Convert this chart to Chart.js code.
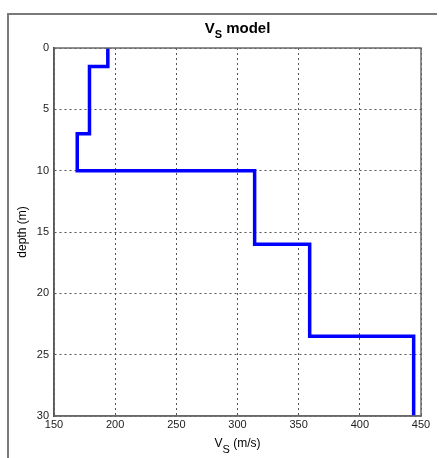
<!DOCTYPE html>
<html>
<head>
<meta charset="utf-8">
<script src="https://cdn.jsdelivr.net/npm/chart.js@4/dist/chart.umd.min.js"></script>
<style>
  html, body { margin: 0; padding: 0; background: #fff; }
  #wrap { position: relative; width: 439px; height: 458px; }
</style>
</head>
<body>
<div id="wrap"><canvas id="c" width="439" height="458"></canvas></div>
<script>
// Layer shear-wave velocities (m/s) and layer boundary depths (m)
const velocities = [194, 179, 169, 314, 359, 444];
const layerTops    = [0, 1.5, 7, 10, 16, 23.5];
const layerBottoms = [1.5, 7, 10, 16, 23.5, 30];
const xTicks = [150, 200, 250, 300, 350, 400, 450];
const yTicks = [0, 5, 10, 15, 20, 25, 30];

const points = [];
velocities.forEach((v, i) => {
  points.push({x: v, y: layerTops[i]});
  points.push({x: v, y: layerBottoms[i]});
});

const FONT = "'Liberation Sans', Arial, sans-serif";

const decor = {
  id: 'decor',
  beforeDraw(chart) {
    const ctx = chart.ctx;
    ctx.save();
    ctx.fillStyle = '#fff';
    ctx.fillRect(0, 0, chart.width, chart.height);
    ctx.strokeStyle = '#7a7a7a';
    ctx.lineWidth = 2;
    ctx.beginPath();
    ctx.moveTo(8, 458);
    ctx.lineTo(8, 14);
    ctx.lineTo(437, 14);
    ctx.stroke();
    ctx.restore();
  },
  afterDatasetsDraw(chart) {
    const {ctx, chartArea: a} = chart;
    ctx.save();
    ctx.strokeStyle = '#6a6a6a';
    ctx.lineWidth = 1.5;
    ctx.setLineDash([]);
    ctx.strokeRect(a.left, a.top, a.right - a.left, a.bottom - a.top);
    ctx.restore();
  },
  afterDraw(chart) {
    const {ctx, chartArea: a} = chart;
    const cx = (a.left + a.right) / 2;
    ctx.save();
    ctx.fillStyle = '#000';
    ctx.textBaseline = 'alphabetic';
    // Title: V_S model
    const drawSub = (main, sub, rest, mainFont, subFont, x, y, subDy) => {
      ctx.font = mainFont;
      const w1 = ctx.measureText(main).width;
      const w3 = ctx.measureText(rest).width;
      ctx.font = subFont;
      const w2 = ctx.measureText(sub).width;
      let sx = x - (w1 + w2 + w3) / 2;
      ctx.textAlign = 'left';
      ctx.font = mainFont;
      ctx.fillText(main, sx, y);
      ctx.font = subFont;
      ctx.fillText(sub, sx + w1, y + subDy);
      ctx.font = mainFont;
      ctx.fillText(rest, sx + w1 + w2, y);
    };
    drawSub('V', 'S', ' model', 'bold 15px ' + FONT, 'bold 11px ' + FONT, cx, 33, 5);
    drawSub('V', 'S', ' (m/s)', '12px ' + FONT, '11px ' + FONT, cx, 447, 6);
    // Y label
    ctx.translate(26, (a.top + a.bottom) / 2);
    ctx.rotate(-Math.PI / 2);
    ctx.textAlign = 'center';
    ctx.font = '12px ' + FONT;
    ctx.fillText('depth (m)', 0, 0);
    ctx.restore();
  }
};

new Chart(document.getElementById('c'), {
  type: 'scatter',
  data: {
    datasets: [{
      data: points,
      showLine: true,
      borderColor: '#0000ff',
      borderWidth: 3.5,
      pointRadius: 0,
      fill: false,
      tension: 0
    }]
  },
  options: {
    responsive: false,
    animation: false,
    layout: { padding: { left: 0, right: 18, top: 48, bottom: 0 } },
    plugins: { legend: { display: false }, tooltip: { enabled: false }, title: { display: false } },
    scales: {
      x: {
        type: 'linear',
        min: 150, max: 450,
        afterBuildTicks(s) { s.ticks = xTicks.map(v => ({value: v})); },
        afterFit(s) { s.height = 42; },
        ticks: { padding: 2, color: '#222', font: { family: FONT, size: 11 }, maxRotation: 0 },
        grid: { color: '#555', drawTicks: false, lineWidth: 1 },
        border: { display: true, color: '#6a6a6a', width: 1.5, dash: [2, 3] }
      },
      y: {
        type: 'linear',
        reverse: true,
        min: 0, max: 30,
        afterBuildTicks(s) { s.ticks = yTicks.map(v => ({value: v})); },
        afterFit(s) { s.width = 54; },
        ticks: { padding: 5, color: '#222', font: { family: FONT, size: 11 } },
        grid: { color: '#555', drawTicks: false, lineWidth: 1 },
        border: { display: true, color: '#222', width: 1.5, dash: [2, 3] }
      }
    }
  },
  plugins: [decor]
});
</script>
</body>
</html>
